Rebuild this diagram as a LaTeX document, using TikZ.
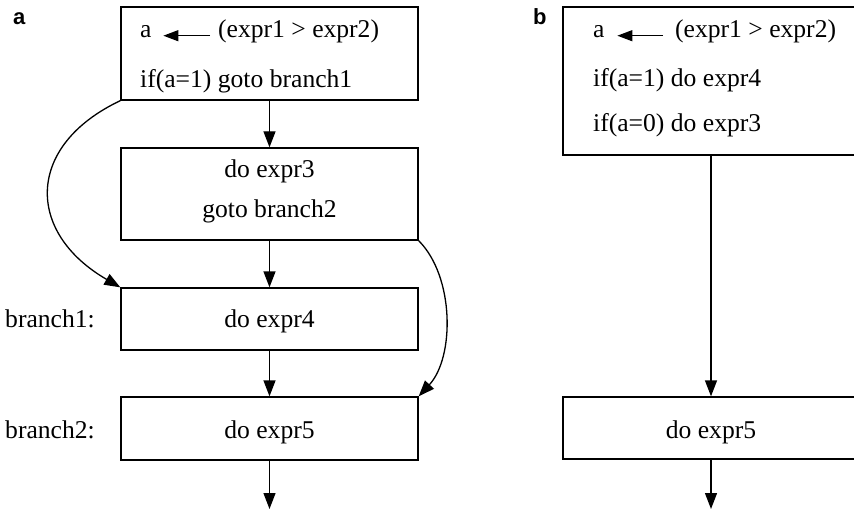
\documentclass[tikz,border=0pt]{standalone}
\usepackage{fontspec}
\setmainfont{Liberation Serif}
\newfontfamily\labelfont{Liberation Sans}
\usetikzlibrary{arrows.meta}
\begin{document}
\begin{tikzpicture}[x=1pt,y=-1pt,
  box/.style={draw, line width=1.3pt, rectangle, inner sep=0pt, minimum width=297pt},
  txt/.style={inner sep=0pt, font=\fontsize{25.6}{30}\selectfont},
  flow/.style={line width=1.3pt, -{Triangle[length=16pt,width=12pt]}},
  assign/.style={line width=1.3pt, -{Triangle[length=15pt,width=11pt]}},
  panel/.style={inner sep=0pt, font=\labelfont\bfseries\fontsize{22}{26}\selectfont}]
\useasboundingbox (0,0) rectangle (854,513);
\clip (0,0) rectangle (854,513);

% ---------------- panel a: goto version ----------------
\node[panel, anchor=base west] (pa) at (13,25) {a};

\node[box, minimum height=93pt] (A1) at (269.5,53.5) {};
\node[box, minimum height=92pt] (A2) at (269.5,194) {};
\node[box, minimum height=62pt] (A3) at (269.5,319) {};
\node[box, minimum height=63pt] (A4) at (269.5,428.5) {};

\node[txt, anchor=base west] (a1var) at (140,38) {a};
\node[txt, anchor=base west] (a1cmp) at (218,38) {(expr1 > expr2)};
\node[txt, anchor=base west] (a1if) at (140,88) {if(a=1) goto branch1};
\draw[assign, shorten <=8pt, shorten >=11.6pt] (a1cmp.mid west) -- (a1var.mid east);

\node[txt, anchor=base] (a2do) at (269.5,178) {do expr3};
\node[txt, anchor=base] (a2go) at (269.5,218) {goto branch2};
\node[txt, anchor=base] (a3do) at (269.5,327) {do expr4};
\node[txt, anchor=base] (a4do) at (269.5,438) {do expr5};

\node[txt, anchor=base west] (lb1) at (5,327) {branch1:};
\node[txt, anchor=base west] (lb2) at (5,438) {branch2:};

\coordinate (aout) at (269.5,509);

\draw[flow] (A1.south) -- (A2.north);
\draw[flow] (A2.south) -- (A3.north);
\draw[flow] (A3.south) -- (A4.north);
\draw[flow] (A4.south) -- (aout);

\draw[flow] (A1.south west) .. controls +(-95,45) and +(-95,-55) .. (A3.north west);
\draw[flow] (A2.south east) .. controls +(36,36) and +(36,-39) .. (A4.north east);

% ---------------- panel b: predicated version ----------------
\node[panel, anchor=base west] (pb) at (533,25) {b};

\node[box, minimum width=296pt, minimum height=148pt] (B1) at (711,81) {};
\node[box, minimum width=296pt, minimum height=62pt] (B2) at (711,428) {};

\node[txt, anchor=base west] (b1var) at (593,38) {a};
\node[txt, anchor=base west] (b1cmp) at (675,38) {(expr1 > expr2)};
\node[txt, anchor=base west] (b1if1) at (593,87) {if(a=1) do expr4};
\node[txt, anchor=base west] (b1if0) at (593,132) {if(a=0) do expr3};
\draw[assign, shorten <=12pt, shorten >=12.6pt] (b1cmp.mid west) -- (b1var.mid east);

\node[txt, anchor=base] (b2do) at (711,438) {do expr5};

\coordinate (bout) at (711,509);

\draw[flow] (B1.south) -- (B2.north);
\draw[flow] (B2.south) -- (bout);
\end{tikzpicture}
\end{document}
